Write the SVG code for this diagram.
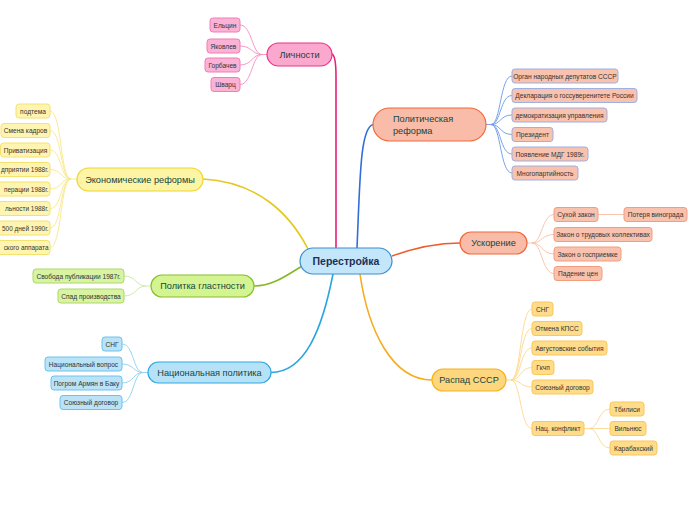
<svg xmlns="http://www.w3.org/2000/svg" width="696" height="520" viewBox="0 0 696 520">
<style>
text{font-family:"Liberation Sans","DejaVu Sans",sans-serif;}
.leaf{font-size:6.6px;fill:#333;text-anchor:middle;}
.leafe{font-size:6.45px;fill:#333;text-anchor:end;}
.br{font-size:9.2px;fill:#17453a;text-anchor:middle;}
.brl{font-size:9.2px;fill:#17453a;}
.ctr{font-size:10.5px;fill:#1b2f55;text-anchor:middle;font-weight:bold;}
path{fill:none;}
.pk{fill:#fbb2d4;stroke:#f07fb8;stroke-width:1;}
.ye{fill:#fff5b0;stroke:#f3e270;stroke-width:1;}
.gr{fill:#d8f4a2;stroke:#acd868;stroke-width:1;}
.lb{fill:#bae3f8;stroke:#6cc2ec;stroke-width:1;}
.po{fill:#f8c2ae;stroke:#9fb0e2;stroke-width:1;}
.us{fill:#f8c2ae;stroke:#f59c7c;stroke-width:1;}
.or{fill:#ffdc8a;stroke:#f9c75a;stroke-width:1;}
</style>
<g id="connectors">
<path d="M332,54 Q336,56 336,76 L336,248" stroke="#e8207a" stroke-width="1.6"/>
<path d="M357,248 C360,180 360,128 373,124.5" stroke="#2f6fd8" stroke-width="1.6"/>
<path d="M392,256 C420,246 440,243 460,243" stroke="#f05a28" stroke-width="1.6"/>
<path d="M360,274 C368,330 392,380 432,380" stroke="#f8ac1c" stroke-width="1.6"/>
<path d="M333,274 C322,330 305,372 271,372.5" stroke="#2aa5e0" stroke-width="1.6"/>
<path d="M302,266 C286,276 272,286 254,286" stroke="#86b828" stroke-width="1.6"/>
<path d="M203,179 C258,182 290,214 308,249" stroke="#e3c91e" stroke-width="1.6"/>
<g stroke="#f590c0" stroke-width="0.9">
<path d="M267,54.5 L262,54.5 C252,54.5 252,25 240,25"/>
<path d="M262,54.5 C252,54.5 252,46 240,46"/>
<path d="M262,54.5 C252,54.5 252,65 240,65"/>
<path d="M262,54.5 C252,54.5 252,84.5 240,84.5"/>
</g>
<g stroke="#f8e88a" stroke-width="0.9">
<path d="M77,179 L71,179 C60,179 62,111 50,111"/>
<path d="M71,179 C60,179 62,130.5 50,130.5"/>
<path d="M71,179 C60,179 62,150 50,150"/>
<path d="M71,179 C60,179 62,169.5 50,169.5"/>
<path d="M71,179 C60,179 62,189 50,189"/>
<path d="M71,179 C60,179 62,208.5 50,208.5"/>
<path d="M71,179 C60,179 62,228 50,228"/>
<path d="M71,179 C60,179 62,247.5 50,247.5"/>
</g>
<g stroke="#c8e8a0" stroke-width="0.9">
<path d="M151,286 L146,286 C136,286 136,276 124,276"/>
<path d="M146,286 C136,286 136,296 124,296"/>
</g>
<g stroke="#8ed0f0" stroke-width="0.9">
<path d="M148,372.5 L143,372.5 C133,372.5 134,344 122,344"/>
<path d="M143,372.5 C133,372.5 134,364 122,364"/>
<path d="M143,372.5 C133,372.5 134,383 122,383"/>
<path d="M143,372.5 C133,372.5 134,402.5 122,402.5"/>
</g>
<g stroke="#6a9ae8" stroke-width="0.9">
<path d="M486,124.5 L491,124.5 C501,124.5 500,76 512,76"/>
<path d="M491,124.5 C501,124.5 500,95.5 512,95.5"/>
<path d="M491,124.5 C501,124.5 500,115 512,115"/>
<path d="M491,124.5 C501,124.5 500,134.5 512,134.5"/>
<path d="M491,124.5 C501,124.5 500,154 512,154"/>
<path d="M491,124.5 C501,124.5 500,173 512,173"/>
</g>
<g stroke="#f8c0a8" stroke-width="0.9">
<path d="M527,243 L532,243 C542,243 542,214.5 554,214.5"/>
<path d="M532,243 C542,243 542,234.5 554,234.5"/>
<path d="M532,243 C542,243 542,254 554,254"/>
<path d="M532,243 C542,243 542,273.5 554,273.5"/>
<path d="M598,214.5 L624,214.5"/>
</g>
<g stroke="#fdd890" stroke-width="0.9">
<path d="M506,380 L511,380 C521,380 520,309 532,309"/>
<path d="M511,380 C521,380 520,328.5 532,328.5"/>
<path d="M511,380 C521,380 520,348 532,348"/>
<path d="M511,380 C521,380 520,367.5 532,367.5"/>
<path d="M511,380 C521,380 520,387 532,387"/>
<path d="M511,380 C521,380 520,428.5 532,428.5"/>
<path d="M584,428.5 L589,428.5 C599,428.5 598,409 610,409"/>
<path d="M589,428.5 L610,428.5"/>
<path d="M589,428.5 C599,428.5 598,448 610,448"/>
</g>
</g>
<g id="n-center">
<rect x="300" y="248" width="92" height="26" rx="13" fill="#c3e6fa" stroke="#3c8fd0" stroke-width="1.2"/>
<text class="ctr" x="346" y="264.8">Перестройка</text>
</g>
<g id="n-lichnosti">
<rect x="267" y="43" width="65" height="23" rx="11.5" fill="#fba8ce" stroke="#e8348a" stroke-width="1.2"/>
<text class="br" x="299.5" y="57.8">Личности</text>
</g>
<g id="l-elcin"><rect class="pk" x="210" y="18" width="30" height="14" rx="3"/><text class="leaf" x="225" y="27.5">Ельцин</text></g>
<g id="l-yakovlev"><rect class="pk" x="207" y="39" width="33" height="14" rx="3"/><text class="leaf" x="223.5" y="48.5">Яковлев</text></g>
<g id="l-gorbachev"><rect class="pk" x="205" y="58" width="35" height="14" rx="3"/><text class="leaf" x="222.5" y="67.5">Горбачев</text></g>
<g id="l-shvarc"><rect class="pk" x="211" y="77.5" width="29" height="14" rx="3"/><text class="leaf" x="225.5" y="87">Шварц</text></g>
<g id="n-econ">
<rect x="77" y="168" width="126" height="23" rx="11.5" fill="#fdf4a6" stroke="#eed52a" stroke-width="1.2"/>
<text class="br" x="140" y="182.8">Экономические реформы</text>
</g>
<g id="l-e1"><rect class="ye" x="16" y="104" width="34" height="14" rx="3"/><text class="leaf" x="33" y="113.5">подтема</text></g>
<g id="l-e2"><rect class="ye" x="1" y="123.5" width="49" height="14" rx="3"/><text class="leaf" x="25.5" y="133">Смена кадров</text></g>
<g id="l-e3"><rect class="ye" x="0.5" y="143" width="49.5" height="14" rx="3"/><text class="leaf" x="25.5" y="152.5">Приватизация</text></g>
<g id="l-e4"><rect class="ye" x="-80" y="162.5" width="130" height="14" rx="3"/><text class="leafe" x="48.5" y="172">дприятии 1988г.</text></g>
<g id="l-e5"><rect class="ye" x="-80" y="182" width="130" height="14" rx="3"/><text class="leafe" x="48.5" y="191.5">перации 1988г.</text></g>
<g id="l-e6"><rect class="ye" x="-80" y="201.5" width="130" height="14" rx="3"/><text class="leafe" x="48.5" y="211">льности 1988г.</text></g>
<g id="l-e7"><rect class="ye" x="-80" y="221" width="130" height="14" rx="3"/><text class="leafe" x="48.5" y="230.5">500 дней 1990г.</text></g>
<g id="l-e8"><rect class="ye" x="-80" y="240.5" width="130" height="14" rx="3"/><text class="leafe" x="48.5" y="250">ского аппарата</text></g>
<g id="n-glasnost">
<rect x="151" y="275" width="103" height="22" rx="11" fill="#d4f391" stroke="#86c22c" stroke-width="1.2"/>
<text class="br" x="202.5" y="289.4">Политка гластности</text>
</g>
<g id="l-g1"><rect class="gr" x="33" y="269" width="91" height="14" rx="3"/><text class="leaf" x="78.5" y="278.5">Свобода публикации 1987г.</text></g>
<g id="l-g2"><rect class="gr" x="58" y="289" width="66" height="14" rx="3"/><text class="leaf" x="91" y="298.5">Спад производства</text></g>
<g id="n-nat">
<rect x="148" y="362" width="123" height="21" rx="10.5" fill="#b6e2f8" stroke="#2ea8e0" stroke-width="1.2"/>
<text class="br" x="209.5" y="375.9">Национальная политика</text>
</g>
<g id="l-n1"><rect class="lb" x="102" y="337" width="20" height="14" rx="3"/><text class="leaf" x="112" y="346.5">СНГ</text></g>
<g id="l-n2"><rect class="lb" x="45" y="357" width="77" height="14" rx="3"/><text class="leaf" x="83.5" y="366.5">Национальный вопрос</text></g>
<g id="l-n3"><rect class="lb" x="51" y="376" width="71" height="14" rx="3"/><text class="leaf" x="86.5" y="385.5">Погром Армян в Баку</text></g>
<g id="l-n4"><rect class="lb" x="60" y="395.5" width="62" height="14" rx="3"/><text class="leaf" x="91" y="405">Союзный договор</text></g>
<g id="n-polit">
<rect x="373" y="108" width="113" height="33" rx="16.5" fill="#f8bca8" stroke="#f06a3c" stroke-width="1.2"/>
<text class="brl" x="393" y="122">Политическая</text>
<text class="brl" x="393" y="134">реформа</text>
</g>
<g id="l-p1"><rect class="po" x="512" y="69" width="106" height="14" rx="3"/><text class="leaf" x="565" y="78.5">Орган народных депутатов СССР</text></g>
<g id="l-p2"><rect class="po" x="512" y="88.5" width="125" height="14" rx="3"/><text class="leaf" x="574.5" y="98">Декларация о госсуверенитете России</text></g>
<g id="l-p3"><rect class="po" x="512" y="108" width="95" height="14" rx="3"/><text class="leaf" x="559.5" y="117.5">демократизация управления</text></g>
<g id="l-p4"><rect class="po" x="512" y="127.5" width="41" height="14" rx="3"/><text class="leaf" x="532.5" y="137">Президент</text></g>
<g id="l-p5"><rect class="po" x="512" y="147" width="76" height="14" rx="3"/><text class="leaf" x="550" y="156.5">Появление МДГ 1989г.</text></g>
<g id="l-p6"><rect class="po" x="512" y="166" width="66" height="14" rx="3"/><text class="leaf" x="545" y="175.5">Многопартийность</text></g>
<g id="n-uskor">
<rect x="460" y="232" width="67" height="22" rx="11" fill="#f8bca8" stroke="#f06a3c" stroke-width="1.2"/>
<text class="br" x="493.5" y="246.4">Ускорение</text>
</g>
<g id="l-u1"><rect class="us" x="554" y="207.5" width="44" height="14" rx="3"/><text class="leaf" x="576" y="217">Сухой закон</text></g>
<g id="l-u1a"><rect class="us" x="624" y="207.5" width="63" height="14" rx="3"/><text class="leaf" x="655.5" y="217">Потеря винограда</text></g>
<g id="l-u2"><rect class="us" x="554" y="227.5" width="98" height="14" rx="3"/><text class="leaf" x="603" y="237">Закон о трудовых коллективах</text></g>
<g id="l-u3"><rect class="us" x="554" y="247" width="67" height="14" rx="3"/><text class="leaf" x="587.5" y="256.5">Закон о госприемке</text></g>
<g id="l-u4"><rect class="us" x="554" y="266.5" width="48" height="14" rx="3"/><text class="leaf" x="578" y="276">Падение цен</text></g>
<g id="n-raspad">
<rect x="432" y="369" width="74" height="22" rx="11" fill="#fed67e" stroke="#f6b41e" stroke-width="1.2"/>
<text class="br" x="469" y="383.4">Распад СССР</text>
</g>
<g id="l-r1"><rect class="or" x="532" y="302" width="21" height="14" rx="3"/><text class="leaf" x="542.5" y="311.5">СНГ</text></g>
<g id="l-r2"><rect class="or" x="532" y="321.5" width="50" height="14" rx="3"/><text class="leaf" x="557" y="331">Отмена КПСС</text></g>
<g id="l-r3"><rect class="or" x="532" y="341" width="75" height="14" rx="3"/><text class="leaf" x="569.5" y="350.5">Августовские события</text></g>
<g id="l-r4"><rect class="or" x="532" y="360.5" width="22" height="14" rx="3"/><text class="leaf" x="543" y="370">Гкчп</text></g>
<g id="l-r5"><rect class="or" x="532" y="380" width="61" height="14" rx="3"/><text class="leaf" x="562.5" y="389.5">Союзный договор</text></g>
<g id="l-r6"><rect class="or" x="532" y="421.5" width="52" height="14" rx="3"/><text class="leaf" x="558" y="431">Нац. конфликт</text></g>
<g id="l-r6a"><rect class="or" x="610" y="402" width="34" height="14" rx="3"/><text class="leaf" x="627" y="411.5">Тбилиси</text></g>
<g id="l-r6b"><rect class="or" x="610" y="421.5" width="36" height="14" rx="3"/><text class="leaf" x="628" y="431">Вильнюс</text></g>
<g id="l-r6c"><rect class="or" x="610" y="441" width="47" height="14" rx="3"/><text class="leaf" x="633.5" y="450.5">Карабахский</text></g>
</svg>
